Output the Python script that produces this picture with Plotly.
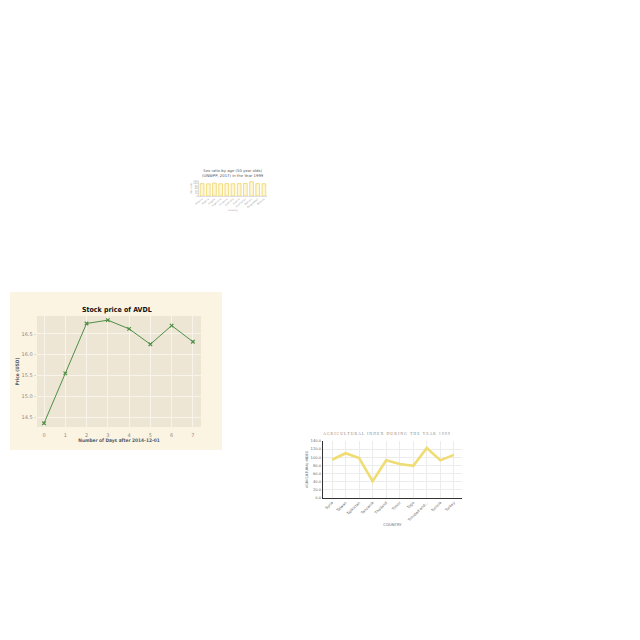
import plotly.graph_objects as go

W = H = 640

# ---- Chart A: sex ratio bars ----
sex_countries = ["Albania", "Algeria", "Angola", "Argentina", "Armenia", "Australia",
                 "Austria", "Azerbaijan", "Bahrain", "Bangladesh", "Belarus"]
sex_ratio = [99, 97, 103, 98, 99, 98, 99, 100, 114, 99, 98]

# ---- Chart B: stock price ----
stock_days = [0, 1, 2, 3, 4, 5, 6, 7]
stock_price = [14.35, 15.55, 16.75, 16.83, 16.62, 16.25, 16.70, 16.31]

# ---- Chart C: agricultural index ----
agri_countries = ["Syria", "Taiwan", "Tajikistan", "Tanzania", "Thailand", "Timor",
                  "Togo", "Trinidad and...", "Tunisia", "Turkey"]
agri_index = [94, 110, 98, 41, 92.5, 83.5, 79, 123, 92.5, 106]


def dx(a, b):
    return [a / W, b / W]


def dy(top, bottom):
    return [1 - bottom / H, 1 - top / H]


fig = go.Figure()

fig.add_trace(go.Bar(x=sex_countries, y=sex_ratio, xaxis="x", yaxis="y",
                     marker=dict(color="rgba(250,232,140,0.35)",
                                 line=dict(color="#edcf55", width=0.7)),
                     width=0.6, showlegend=False))

fig.add_trace(go.Scatter(x=stock_days, y=stock_price, xaxis="x2", yaxis="y2",
                         mode="lines+markers",
                         line=dict(color="#4e8f45", width=1),
                         marker=dict(symbol="x-thin", size=3.5,
                                     line=dict(color="#4e8f45", width=1.2)),
                         showlegend=False))

fig.add_trace(go.Scatter(x=agri_countries, y=agri_index, xaxis="x3", yaxis="y3",
                         mode="lines", line=dict(color="#efdc72", width=2.6),
                         showlegend=False))

shapes = [
    dict(type="rect", xref="paper", yref="paper", x0=10 / W, x1=222 / W,
         y0=1 - 450 / H, y1=1 - 292 / H, fillcolor="#fcf4e2", line=dict(width=0),
         layer="below"),
    dict(type="rect", xref="x2 domain", yref="y2 domain", x0=0, x1=1, y0=0, y1=1,
         fillcolor="#ede6d5", line=dict(width=0), layer="below"),
]

small = dict(family="DejaVu Sans", size=2.4, color="#999999")
stock_tick = dict(family="DejaVu Sans", size=5, color="#8a8a8a")
cond = "DejaVu Sans Condensed, Liberation Sans Narrow, DejaVu Sans"
stock_title = dict(family=cond, size=4.8, color="#4d5a6a")
agri_tick = dict(family="DejaVu Sans", size=3.7, color="#666666")

fig.update_layout(
    width=W, height=H, margin=dict(l=0, r=0, t=0, b=0, autoexpand=False),
    paper_bgcolor="white", plot_bgcolor="rgba(0,0,0,0)",
    shapes=shapes,
    # Chart A
    xaxis=dict(domain=dx(199, 267), anchor="y", tickangle=-40, tickfont=small,
               showgrid=False, showline=True, linecolor="#dddddd", linewidth=0.5,
               ticks="", automargin=False,
               title=dict(text="Country", font=small, standoff=1)),
    yaxis=dict(domain=dy(181, 196), anchor="x", range=[0, 120], tickfont=small,
               showgrid=False, showline=True, linecolor="#dddddd", linewidth=0.5,
               dtick=20, ticks="", automargin=False, showticklabels=True,
               title=dict(text="Sex ratio", font=small, standoff=1)),
    # Chart B
    xaxis2=dict(domain=dx(37, 201), anchor="y2", range=[-0.33, 7.38], dtick=1,
                tickfont=stock_tick, showgrid=True, gridcolor="#f8f4ec", gridwidth=0.7,
                zeroline=False, ticks="outside", ticklen=3, tickcolor="rgba(0,0,0,0)",
                automargin=False,
                title=dict(text="<b>Number of Days after 2014-12-01</b>",
                           font=stock_title, standoff=1)),
    yaxis2=dict(domain=dy(316, 427), anchor="x2", range=[14.26, 16.93],
                tickvals=[14.5, 15.0, 15.5, 16.0, 16.5],
                ticktext=["14.5 -", "15.0 -", "15.5 -", "16.0 -", "16.5 -"],
                tickfont=stock_tick, showgrid=True, gridcolor="#f8f4ec", gridwidth=0.7,
                zeroline=False, ticks="", automargin=False),
    # Chart C
    xaxis3=dict(domain=dx(323, 462), anchor="y3", range=[-0.67, 9.6], tickangle=-45,
                tickfont=agri_tick, showgrid=True, gridcolor="#ececec", gridwidth=0.5,
                showline=True, linecolor="#333333", linewidth=1.2, ticks="",
                automargin=False,
                title=dict(text="COUNTRY", font=dict(family="DejaVu Sans", size=3.8,
                                                   color="#666666"), standoff=1)),
    yaxis3=dict(domain=dy(441, 498), anchor="x3", range=[0, 140], dtick=20,
                tickformat=".1f", tickfont=agri_tick, showgrid=True, gridcolor="#ececec",
                gridwidth=0.5, zeroline=False, showline=True, linecolor="#333333",
                linewidth=1.2, ticks="", automargin=False,
                title=dict(text="AGRICULTURAL INDEX",
                           font=dict(family="DejaVu Sans", size=3.4, color="#666666"),
                           standoff=2)),
    annotations=[
        dict(text="Sex ratio by age (50 year olds)<br>(UNWPP, 2017) in the Year 1999",
             xref="paper", yref="paper", x=233 / W, y=1 - 172.5 / H, showarrow=False,
             font=dict(family="DejaVu Sans", size=3.8, color="#555555"),
             xanchor="center", yanchor="middle"),
        dict(text="<b>Stock price of AVDL</b>", xref="paper", yref="paper",
             x=117 / W, y=1 - 310 / H, showarrow=False,
             font=dict(family=cond, size=7, color="#111111"),
             xanchor="center", yanchor="middle"),
        dict(text="<b>Price (USD)</b>", xref="paper", yref="paper",
             x=16.5 / W, y=1 - 372 / H, showarrow=False, textangle=-90,
             font=stock_title, xanchor="center", yanchor="middle"),
        dict(text="A G R I C U L T U R A L   I N D E X   D U R I N G   T H E   Y E A R   1 9 9 9",
             xref="paper", yref="paper", x=386 / W, y=1 - 433 / H, showarrow=False,
             font=dict(family="Liberation Serif, DejaVu Serif", size=4, color="#888888"),
             xanchor="center", yanchor="middle"),
    ],
)

fig.write_html("out.html")
